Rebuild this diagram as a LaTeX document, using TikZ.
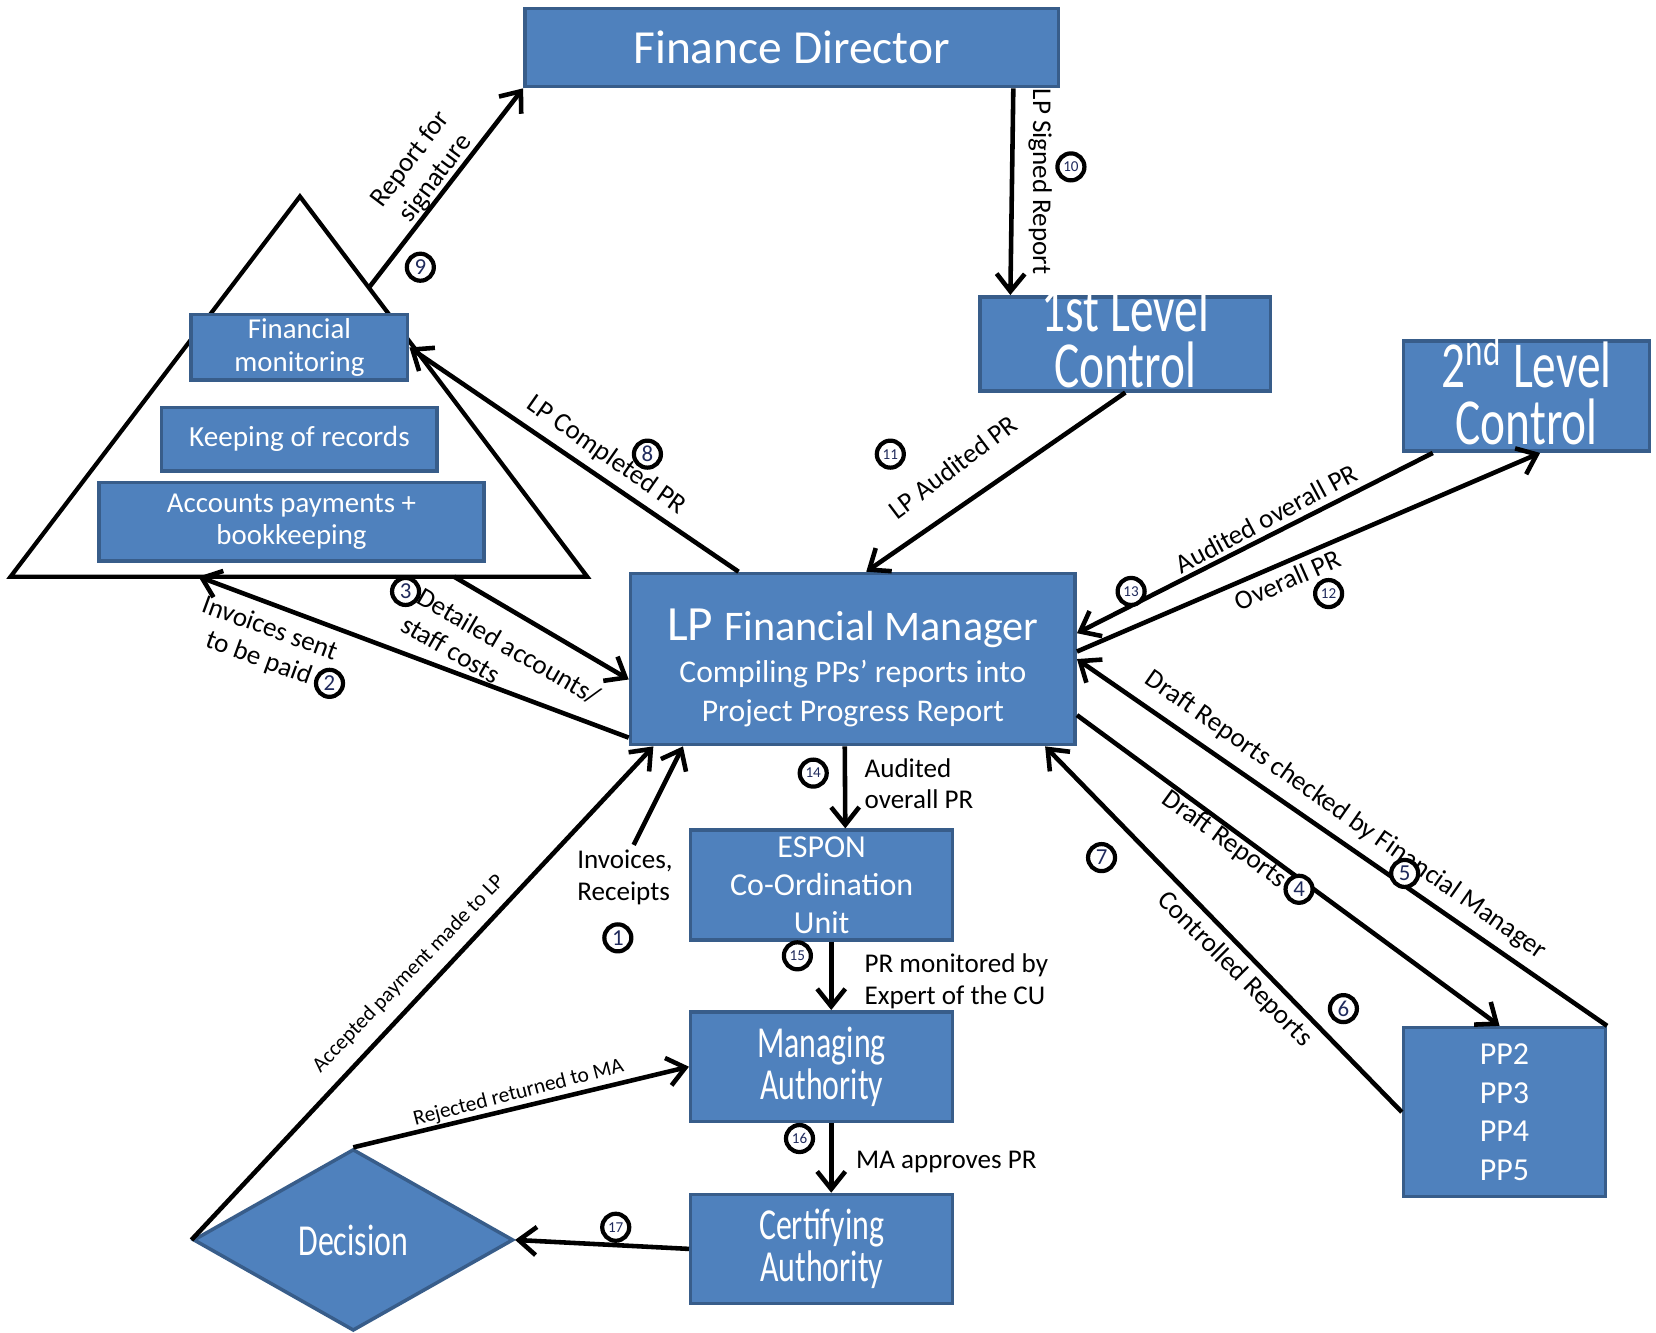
\documentclass[tikz,border=0pt]{standalone}
\usepackage{fontspec}
\setmainfont{Carlito}
\newfontfamily\narrowfont[FakeStretch=0.72]{Carlito}
\usetikzlibrary{arrows.meta}
\usetikzlibrary{calc}
\usetikzlibrary{shapes.geometric}
\definecolor{boxblue}{HTML}{4F81BD}
\definecolor{boxedge}{HTML}{385D8A}
\definecolor{numink}{HTML}{1F2A5C}

\tikzset{
	box/.style={draw=boxedge, line width=1pt, fill=boxblue, text=white, inner sep=0pt, align=center},
	arr/.style={line width=1.3pt, -{Straight Barb[length=5pt,width=8pt]}},
	lbl/.style={inner sep=0pt, align=center, font=\fontsize{7.7}{9}\selectfont},
	tinylbl/.style={inner sep=0pt, font=\fontsize{6.1}{7}\selectfont},
	num/.style={circle, draw, fill=white, line width=1.2pt, minimum size=0.27cm, inner sep=0pt, text=numink, font=\fontsize{6.5}{6.5}\selectfont},
	numtwo/.style={num, font=\fontsize{4.3}{4.3}\selectfont}
}

\begin{document}
\begin{tikzpicture}[x=0.010561cm, y=-0.010561cm]
		\useasboundingbox[fill=white] (0,0) rectangle (1568,1262);

		\draw[line width=1.2pt] (284,186) coordinate (apex) -- (556,546) coordinate (br) -- (10,546) coordinate (bl) -- cycle;

		\node[box, minimum width=5.333cm, minimum height=0.781cm, font=\fontsize{13.5}{15}\selectfont] (fd) at (749.5,45) {Finance Director};
		\node[box, minimum width=2.904cm, minimum height=0.940cm, inner ysep=-3.7pt, font=\narrowfont\fontsize{18.7}{16}\selectfont] (flc) at (1065.5,325.5) {1st Level\\Control\rule[-4pt]{0pt}{0pt}};
		\node[box, minimum width=2.461cm, minimum height=1.098cm, inner ysep=-2pt, font=\narrowfont\fontsize{18.7}{16}\selectfont] (slc) at (1445.5,375) {2\textsuperscript{nd} Level\\Control\rule[-4pt]{0pt}{0pt}};
		\node[box, minimum width=2.165cm, minimum height=0.655cm, font=\fontsize{8.2}{9.3}\selectfont] (finmon) at (283.5,329) {Financial\\monitoring};
		\node[box, minimum width=2.756cm, minimum height=0.634cm, font=\fontsize{8.3}{9.3}\selectfont] (records) at (283.5,416) {Keeping of records};
		\node[box, minimum width=3.844cm, minimum height=0.781cm, font=\fontsize{8.2}{9.3}\selectfont] (accounts) at (276,494) {Accounts payments +\\bookkeeping};
		\node[box, minimum width=4.446cm, minimum height=1.711cm, font=\fontsize{9}{11}\selectfont] (lpfm) at (807.5,624) {\rule{0pt}{14pt}{\fontsize{14}{14}\selectfont LP \fontsize{12}{14}\selectfont Financial Manager}\\[1pt]Compiling PPs' reports into\\Project Progress Report};
		\node[box, minimum width=2.619cm, minimum height=1.098cm, font=\fontsize{9.1}{10.8}\selectfont] (espon) at (778,838) {ESPON\\Co-Ordination\\Unit};
		\node[box, minimum width=2.619cm, minimum height=1.098cm, font=\narrowfont\fontsize{12.6}{10.8}\selectfont] (ma) at (778,1010) {Managing\\Authority};
		\node[box, minimum width=2.619cm, minimum height=1.088cm, font=\narrowfont\fontsize{12.6}{10.8}\selectfont] (ca) at (778,1182.5) {Certifying\\Authority};
		\node[box, minimum width=2.017cm, minimum height=1.690cm, font=\fontsize{9.1}{11}\selectfont] (pp) at (1424.5,1053) {PP2\\PP3\\PP4\\PP5};
		\node[box, diamond, minimum width=3.2cm, minimum height=1.816cm, font=\narrowfont\fontsize{12.6}{12}\selectfont] (dec) at (334.5,1174) {Decision};

		\coordinate (invsrc) at (600,800);

		\draw[arr] ($(fd.south west)!0.913!(fd.south east)$) -- ($(flc.north west)!0.109!(flc.north east)$);
		\draw[arr] (flc.south) -- ($(lpfm.north west)!0.53!(lpfm.north east)$);
		\draw[arr] ($(lpfm.north west)!0.245!(lpfm.north east)$) -- (finmon.east);
		\draw[arr] ($(apex)!0.24!(br)$) -- (fd.south west);
		\draw[arr] ($(slc.south west)!0.124!(slc.south east)$) -- ($(lpfm.north east)!0.352!(lpfm.south east)$);
		\draw[arr] ($(lpfm.north east)!0.457!(lpfm.south east)$) -- ($(slc.south west)!0.554!(slc.south east)$);
		\draw[arr] ($(lpfm.north west)!0.95!(lpfm.south west)$) -- ($(bl)!0.326!(br)$);
		\draw[arr] ($(bl)!0.769!(br)$) -- ($(lpfm.north west)!0.617!(lpfm.south west)$);
		\draw[arr] (invsrc) -- ($(lpfm.south west)!0.121!(lpfm.south east)$);
		\draw[arr] (dec.west) -- ($(lpfm.south west)!0.055!(lpfm.south east)$);
		\draw[arr] (dec.north) -- (ma.west);
		\draw[arr] (ca.west) -- (dec.east);
		\draw[arr] ($(ma.south west)!0.536!(ma.south east)$) -- ($(ca.north west)!0.536!(ca.north east)$);
		\draw[arr] ($(espon.south west)!0.536!(espon.south east)$) -- ($(ma.north west)!0.536!(ma.north east)$);
		\draw[arr] ($(lpfm.south west)!0.482!(lpfm.south east)$) -- ($(espon.north west)!0.589!(espon.north east)$);
		\draw[arr] ($(lpfm.north east)!0.821!(lpfm.south east)$) -- ($(pp.north west)!0.476!(pp.north east)$);
		\draw[arr] (pp.north east) -- (lpfm.east);
		\draw[arr] (pp.west) -- ($(lpfm.south west)!0.929!(lpfm.south east)$);

		\node[lbl, rotate=-90] (lsigned) at (985,172) {LP Signed Report};
		\node[lbl, rotate=37] (laudited) at (902,442) {LP Audited PR};
		\node[lbl, rotate=-35] (lcompleted) at (574,431) {LP Completed PR};
		\node[lbl, rotate=53] (lsignature) at (401,160) {Report for\\signature};
		\node[lbl, rotate=28] (loverallaud) at (1199,491) {Audited overall PR};
		\node[lbl, rotate=24] (loverall) at (1219,549) {Overall PR};
		\node[lbl, rotate=-20] (lpaid) at (250,610) {Invoices sent\\to be paid};
		\node[lbl, rotate=-30, align=left] (ldetailed) at (474.5,624.7) {Detailed accounts/\\staff costs};
		\node[lbl, align=left, anchor=west] (lreceipts) at (546,831) {Invoices,\\Receipts};
		\node[tinylbl, rotate=46] (laccepted) at (387,922) {Accepted payment made to LP};
		\node[tinylbl, rotate=14.5] (lrejected) at (491,1035) {Rejected returned to MA};
		\node[lbl, align=left, anchor=west] (lespon) at (818,742) {Audited\\overall PR};
		\node[lbl, align=left, anchor=west] (lmonitored) at (818,929) {PR monitored by\\Expert of the CU};
		\node[lbl, anchor=west] (lapproves) at (810,1100) {MA approves PR};
		\node[lbl, rotate=-36] (ldraft) at (1159,795) {Draft Reports};
		\node[lbl, rotate=-35] (lchecked) at (1274,772) {Draft Reports checked by Financial Manager};
		\node[lbl, rotate=-45] (lcontrolled) at (1169,918) {Controlled Reports};

		\node[num] (n1) at (585,888) {1};
		\node[num] (n2) at (312,647) {2};
		\node[num] (n3) at (384,560) {3};
		\node[num] (n4) at (1230,842) {4};
		\node[num] (n5) at (1330,827) {5};
		\node[num] (n6) at (1272,955) {6};
		\node[num] (n7) at (1043,812) {7};
		\node[num] (n8) at (613,430) {8};
		\node[num] (n9) at (398,253) {9};
		\node[numtwo] (n10) at (1014,158) {10};
		\node[numtwo] (n11) at (843,430) {11};
		\node[numtwo] (n12) at (1258,562) {12};
		\node[numtwo] (n13) at (1071,560) {13};
		\node[numtwo] (n14) at (770,732) {14};
		\node[numtwo] (n15) at (755,905) {15};
		\node[numtwo] (n16) at (757,1078) {16};
		\node[numtwo] (n17) at (583,1162) {17};
	\end{tikzpicture}
\end{document}
